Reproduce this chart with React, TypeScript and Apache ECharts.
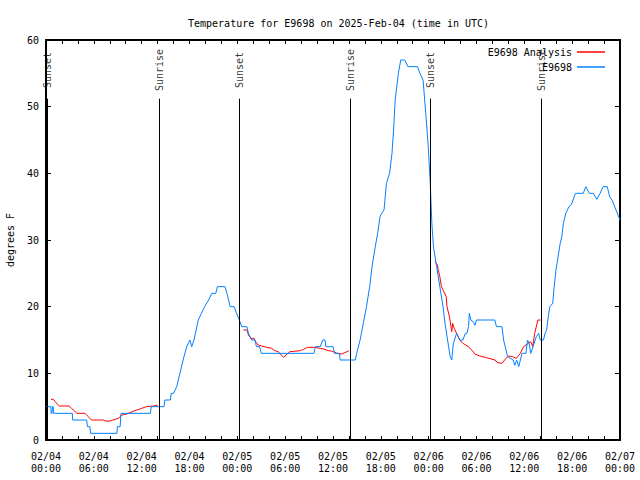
import React, { useEffect, useRef } from 'react';
import * as echarts from 'echarts';

const titleText = 'Temperature for E9698 on 2025-Feb-04 (time in UTC)';
const yAxisName = 'degrees F';
const xTickLabels = [
  '02/04\n00:00', '02/04\n06:00', '02/04\n12:00', '02/04\n18:00',
  '02/05\n00:00', '02/05\n06:00', '02/05\n12:00', '02/05\n18:00',
  '02/06\n00:00', '02/06\n06:00', '02/06\n12:00', '02/06\n18:00',
  '02/07\n00:00',
];

const sunEventHours = [0.2, 14.18, 24.22, 38.2, 48.25, 62.15];
const sunEventNames = ['Sunset', 'Sunrise', 'Sunset', 'Sunrise', 'Sunset', 'Sunrise'];

// observed temperatures (hours since 02/04 00:00 UTC, degrees F)
const observed: [number, number][] = [
  [0.0, 5], [0.6, 5], [0.65, 4], [0.75, 4], [0.8, 5], [0.9, 5], [0.95, 4], [3.3, 4], [3.35, 3],
  [5.1, 3], [5.2, 2], [5.5, 2], [5.6, 1], [8.9, 1], [8.95, 2], [9.3, 2], [9.4, 4], [13.1, 4],
  [13.2, 5], [14.8, 5], [14.9, 6], [15.6, 6], [15.7, 7], [16.0, 7], [16.4, 8], [16.8, 10],
  [17.2, 12], [17.65, 14], [18.06, 15], [18.28, 14], [18.56, 15], [19.1, 18], [19.5, 19],
  [19.9, 20], [20.4, 21], [20.8, 22], [21.3, 22], [21.5, 23], [22.45, 23], [22.7, 22],
  [22.9, 21], [23.1, 20], [23.6, 20], [23.9, 19], [24.25, 18], [24.55, 17], [25.2, 17],
  [25.4, 16], [25.8, 15], [26.2, 15], [26.4, 14], [26.8, 14], [27.0, 13], [33.6, 13],
  [33.8, 14], [34.4, 14], [34.7, 15], [35.0, 15], [35.1, 14], [36.0, 14], [36.2, 13],
  [36.8, 13], [36.9, 12], [38.8, 12], [38.97, 13], [39.4, 15], [39.8, 17.5], [40.2, 20],
  [40.6, 23], [40.9, 26], [41.3, 29], [41.6, 31], [41.9, 33.5], [42.1, 34], [42.4, 34.5],
  [42.7, 38.5], [43.1, 40], [43.4, 43], [43.6, 46.5], [43.8, 51], [44.2, 55], [44.5, 57],
  [45.0, 57], [45.4, 56], [46.6, 56], [46.9, 55], [47.3, 54], [47.7, 48], [47.95, 44],
  [48.2, 38.5], [48.3, 35.5], [48.4, 32.5], [48.6, 29], [49.0, 26], [49.4, 23], [49.8, 20],
  [50.05, 17.5], [50.5, 14], [50.7, 12.5], [50.9, 12], [51.1, 14.5], [51.5, 16], [51.7, 15.5],
  [51.9, 15], [52.3, 15], [52.6, 16], [52.8, 16], [53.0, 17], [53.1, 19], [53.3, 18],
  [53.6, 17.7], [53.8, 17.2], [54.0, 18], [56.3, 18], [56.5, 17], [57.2, 17], [57.4, 15],
  [57.6, 14], [57.9, 12.5], [58.6, 12], [58.8, 11.2], [59.04, 12], [59.3, 11], [59.7, 13],
  [60.2, 13], [60.4, 15], [60.6, 14.5], [60.8, 13], [61.1, 14], [61.5, 15.5], [61.8, 16],
  [62.0, 15], [62.4, 15], [62.6, 16], [62.8, 16.5], [63.0, 18.5], [63.2, 20], [63.56, 20.5],
  [63.7, 22.5], [63.97, 25.5], [64.1, 26.5], [64.5, 29.5], [64.7, 30.5], [64.9, 32.5],
  [65.2, 34], [65.6, 35], [65.9, 35.3], [66.4, 37], [67.4, 37], [67.7, 38], [68.15, 37],
  [68.65, 37], [69.1, 36.1], [69.5, 37], [69.9, 38], [70.4, 38], [70.7, 36.5], [71.0, 36],
  [71.5, 34.5], [72.0, 33],
];

// analysis temperatures, three separate stretches
const analysisNight1: [number, number][] = [
  [0.63, 6.1], [0.92, 6.1], [1.25, 5.6], [1.67, 5.1], [2.9, 5.1], [3.2, 4.75], [3.6, 4.35],
  [3.85, 4.0], [4.9, 4.0], [5.3, 3.5], [5.7, 3.0], [7.2, 3.0], [7.4, 2.85], [8.0, 2.85],
  [8.4, 3.0], [9.1, 3.25], [9.5, 3.75], [10.0, 3.85], [10.5, 4.1], [11.4, 4.5], [12.0, 4.75],
  [12.6, 5.0], [13.5, 5.1], [14.0, 5.25],
];
const analysisNight2: [number, number][] = [
  [24.75, 16.5], [25.2, 16.5], [25.4, 15.75], [25.7, 15.25], [26.1, 15.25], [26.3, 14.75],
  [26.6, 14.25], [27.05, 14.1], [27.7, 13.9], [28.3, 13.75], [28.7, 13.4], [29.1, 13.25],
  [29.4, 12.9], [29.8, 12.4], [30.1, 12.75], [30.6, 13.25], [31.9, 13.4], [32.3, 13.6],
  [32.8, 13.9], [33.7, 13.9], [34.4, 13.75], [35.0, 13.6], [35.4, 13.4], [35.8, 13.35],
  [36.5, 13.0], [37.1, 12.9], [37.5, 13.1], [37.9, 13.35], [38.0, 13.4],
];
const analysisNight3: [number, number][] = [
  [48.8, 26.75], [49.1, 26.25], [49.2, 25.5], [49.4, 24.5], [49.6, 23], [49.9, 22.25],
  [50.2, 21.5], [50.3, 20], [50.6, 18.5], [50.8, 17], [50.9, 16.25], [51.0, 17.5],
  [51.2, 16.75], [51.5, 16], [51.9, 15], [52.3, 14.5], [52.97, 14], [53.4, 13.5],
  [53.8, 12.9], [54.4, 12.6], [55.1, 12.4], [55.7, 12.2], [56.3, 12], [56.7, 11.6],
  [57.2, 11.5], [57.6, 12.1], [58.0, 12.6], [58.5, 12.5], [59.0, 12.25], [59.5, 13],
  [59.9, 14], [60.5, 14.5], [60.8, 14.75], [61.05, 14], [61.3, 16], [61.7, 18], [62.05, 18],
];

const FONT = 'DejaVu Sans Mono';

export default function App() {
  const ref = useRef<HTMLDivElement>(null);
  useEffect(() => {
    if (!ref.current) return;
    const chart = echarts.init(ref.current, null, { renderer: 'svg' });
    const analysis: any[] = [...analysisNight1, null, ...analysisNight2, null, ...analysisNight3].map(
      (p) => (p ? p : [null, null])
    );
    const txt = { fontFamily: FONT, fontSize: 10, color: '#000' };
    const xCommon = {
      type: 'value',
      min: 0,
      max: 72,
      interval: 2,
      splitLine: { show: false },
      axisLine: { show: true, onZero: false, lineStyle: { color: '#000', width: 2 } },
      axisTick: { show: true, inside: true, length: 4, lineStyle: { color: '#000', width: 1 } },
    };
    const yCommon = {
      type: 'value',
      min: 0,
      max: 60,
      interval: 10,
      splitLine: { show: false },
      axisLine: { show: true, onZero: false, lineStyle: { color: '#000', width: 2 } },
      axisTick: { show: true, inside: true, length: 5, lineStyle: { color: '#000', width: 1 } },
    };
    chart.setOption({
      animation: false,
      backgroundColor: '#fff',
      title: {
        text: titleText,
        left: 183,
        top: 13,
        textStyle: { ...txt, fontWeight: 'normal' },
      },
      grid: { left: 46, right: 20, top: 40, bottom: 40, containLabel: false, outerBoundsMode: 'none' },
      legend: [
        {
          data: ['E9698 Analysis'],
          right: 30,
          top: 42,
          orient: 'vertical',
          align: 'right',
          icon: 'rect',
          itemWidth: 28,
          itemHeight: 1.5,
          textStyle: txt,
          selectedMode: false,
        },
        {
          data: ['E9698'],
          right: 30,
          top: 57,
          orient: 'vertical',
          align: 'right',
          icon: 'rect',
          itemWidth: 28,
          itemHeight: 1.5,
          textStyle: txt,
          selectedMode: false,
        },
      ],
      xAxis: [
        {
          ...xCommon,
          position: 'bottom',
          axisLabel: {
            ...txt,
            margin: 10,
            lineHeight: 12,
            formatter: (v: number) => (v % 6 === 0 ? xTickLabels[v / 6] : ''),
          },
        },
        { ...xCommon, position: 'top', axisLabel: { show: false } },
      ],
      yAxis: [
        {
          ...yCommon,
          position: 'left',
          name: yAxisName,
          nameLocation: 'middle',
          nameGap: 31,
          nameRotate: 90,
          nameTextStyle: txt,
          axisLabel: { ...txt, margin: 7 },
        },
        { ...yCommon, position: 'right', axisLabel: { show: false } },
      ],
      series: [
        {
          type: 'scatter',
          name: 'sun',
          xAxisIndex: 0,
          yAxisIndex: 0,
          symbolSize: 0,
          silent: true,
          data: sunEventHours.map((h, i) => ({ value: [h, 55.5], name: sunEventNames[i] })),
          label: {
            show: true,
            position: 'inside',
            rotate: 90,
            formatter: '{b}',
            ...txt,
          },
          markLine: {
            silent: true,
            symbol: ['none', 'none'],
            lineStyle: { color: '#000', width: 1, type: 'solid' },
            label: { show: false },
            data: sunEventHours.map((h) => [{ coord: [h, 51.2] }, { coord: [h, 0] }]),
          },
          z: 1,
        },
        {
          type: 'line',
          name: 'E9698 Analysis',
          xAxisIndex: 0,
          yAxisIndex: 0,
          data: analysis,
          connectNulls: false,
          showSymbol: false,
          symbol: 'none',
          color: '#ff0000',
          lineStyle: { color: '#ff0000', width: 1 },
          z: 2,
        },
        {
          type: 'line',
          name: 'E9698',
          xAxisIndex: 0,
          yAxisIndex: 0,
          data: observed,
          showSymbol: false,
          symbol: 'none',
          color: '#0080ff',
          lineStyle: { color: '#0080ff', width: 1 },
          z: 3,
        },
      ],
    });
    return () => chart.dispose();
  }, []);
  return (
    <div
      ref={ref}
      style={{ position: 'fixed', left: 0, top: 0, width: 640, height: 480, background: '#fff' }}
    />
  );
}
